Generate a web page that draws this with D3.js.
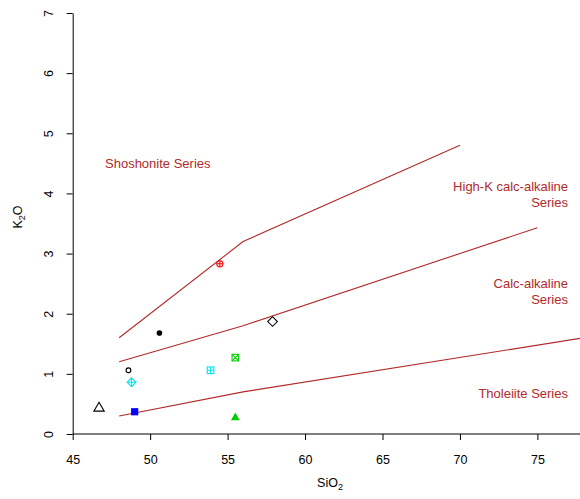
<!DOCTYPE html>
<html>
<head>
<meta charset="utf-8">
<script src="https://cdn.jsdelivr.net/npm/d3@7/dist/d3.min.js"></script>
<style>
  html, body { margin: 0; padding: 0; background: #fff; }
  svg { display: block; font-family: "Liberation Sans", Arial, sans-serif; }
</style>
</head>
<body>
<svg id="chart" width="580" height="499"></svg>
<script>
// Sample analyses (wt%)
const samples = ["A", "B", "C", "D", "E", "F", "G", "H", "I", "J"];
const sio2 = [46.7, 49.0, 55.5, 48.8, 48.6, 53.9, 55.5, 50.6, 54.5, 57.9];
const k2o  = [0.44, 0.37, 0.28, 0.86, 1.06, 1.06, 1.27, 1.68, 2.83, 1.87];

// Series boundaries (SiO2 vs K2O)
const shoshoniteBoundaryX = [48, 56, 70];
const shoshoniteBoundaryY = [1.6, 3.2, 4.8];
const highKBoundaryX = [48, 56, 75];
const highKBoundaryY = [1.2, 1.8, 3.43];
const calcAlkBoundaryX = [48, 56, 78];
const calcAlkBoundaryY = [0.3, 0.7, 1.6];

const xTicks = [45, 50, 55, 60, 65, 70, 75];
const yTicks = [0, 1, 2, 3, 4, 5, 6, 7];

// Symbol and colour for each sample
const sampleStyle = {
  A: { shape: "triangleOpen", color: "#000000" },
  B: { shape: "squareFilled", color: "#0000ff" },
  C: { shape: "triangleFilled", color: "#00cd00" },
  D: { shape: "diamondPlus", color: "#00e5ee" },
  E: { shape: "circleOpen", color: "#000000" },
  F: { shape: "squarePlus", color: "#00e5ee" },
  G: { shape: "squareCross", color: "#00cd00" },
  H: { shape: "dotFilled", color: "#000000" },
  I: { shape: "circlePlus", color: "#ff0000" },
  J: { shape: "diamondOpen", color: "#000000" }
};

const lineColor = "#b22a2a";
const svg = d3.select("#chart");
const W = 580, H = 499;

const x = d3.scaleLinear().domain([45, 77.75]).range([72.7, 580]);
const y = d3.scaleLinear().domain([0, 7]).range([434, 13]);

// Axes
const xAxis = svg.append("g")
  .attr("transform", `translate(0,${y(0)})`)
  .call(d3.axisBottom(x).tickValues(xTicks).tickFormat(d3.format("d"))
    .tickSize(6).tickSizeOuter(0).tickPadding(15));
xAxis.select(".domain").attr("d", `M${x(45)},0H${W}`);
xAxis.selectAll("text").attr("font-size", 12.5).attr("font-family", "Liberation Sans, Arial, sans-serif").attr("fill", "#000");
xAxis.selectAll("line, path").attr("stroke", "#000");

const yAxis = svg.append("g")
  .attr("transform", `translate(${x(45)},0)`)
  .call(d3.axisLeft(y).tickValues(yTicks).tickFormat(d3.format("d"))
    .tickSize(6).tickSizeOuter(0));
yAxis.selectAll("line, path").attr("stroke", "#000");
yAxis.selectAll("text")
  .attr("font-size", 12.5)
  .attr("font-family", "Liberation Sans, Arial, sans-serif")
  .attr("fill", "#000")
  .attr("text-anchor", "middle")
  .attr("transform", "rotate(-90)")
  .attr("x", 0)
  .attr("y", -23.5)
  .attr("dy", "0.32em");

// Axis titles
const xTitle = svg.append("text")
  .attr("x", 330).attr("y", 487)
  .attr("text-anchor", "middle")
  .attr("font-size", 12.5);
xTitle.append("tspan").text("SiO");
xTitle.append("tspan").attr("font-size", 9).attr("dy", 3).text("2");

const yTitle = svg.append("text")
  .attr("transform", "translate(22,217) rotate(-90)")
  .attr("text-anchor", "middle")
  .attr("font-size", 12.5);
yTitle.append("tspan").text("K");
yTitle.append("tspan").attr("font-size", 9).attr("dy", 3).text("2");
yTitle.append("tspan").attr("dy", -3).text("O");

// Boundary lines
const line = d3.line().x(d => x(d[0])).y(d => y(d[1]));
const boundaries = [
  d3.zip(shoshoniteBoundaryX, shoshoniteBoundaryY),
  d3.zip(highKBoundaryX, highKBoundaryY),
  d3.zip(calcAlkBoundaryX, calcAlkBoundaryY)
];
svg.append("defs").append("clipPath").attr("id", "plotClip")
  .append("rect").attr("x", x(45)).attr("y", y(7)).attr("width", W - x(45)).attr("height", y(0) - y(7));
svg.append("g").attr("clip-path", "url(#plotClip)")
  .selectAll("path").data(boundaries).join("path")
  .attr("d", line)
  .attr("fill", "none")
  .attr("stroke", lineColor)
  .attr("stroke-width", 1.1);

// Field labels
const labelG = svg.append("g").attr("fill", lineColor).attr("font-size", 13);
labelG.append("text").attr("x", 105).attr("y", 163).attr("dy", "0.35em").text("Shoshonite Series");
const rightLabels = [
  ["High-K calc-alkaline", 186],
  ["Series", 202],
  ["Calc-alkaline", 283.5],
  ["Series", 299],
  ["Tholeiite Series", 393.5]
];
labelG.selectAll("text.r").data(rightLabels).join("text")
  .attr("class", "r")
  .attr("x", 568).attr("y", d => d[1]).attr("dy", "0.35em")
  .attr("text-anchor", "end")
  .text(d => d[0]);

// Marker drawing
function drawMarker(g, shape, color) {
  const sw = 1.1;
  switch (shape) {
    case "triangleOpen":
      g.append("path").attr("d", "M0,-5.2L5.2,3.6L-5.2,3.6Z").attr("fill", "none").attr("stroke", color).attr("stroke-width", sw);
      break;
    case "triangleFilled":
      g.append("path").attr("d", "M0,-4.6L4.4,3.2L-4.4,3.2Z").attr("fill", color);
      break;
    case "squareFilled":
      g.append("rect").attr("x", -3.6).attr("y", -3.6).attr("width", 7.2).attr("height", 7.2).attr("fill", color);
      break;
    case "squarePlus":
      g.append("rect").attr("x", -3.3).attr("y", -3.3).attr("width", 6.6).attr("height", 6.6).attr("fill", "none").attr("stroke", color).attr("stroke-width", sw);
      g.append("path").attr("d", "M-3.3,0H3.3M0,-3.3V3.3").attr("stroke", color).attr("stroke-width", sw);
      break;
    case "squareCross":
      g.append("rect").attr("x", -3.3).attr("y", -3.3).attr("width", 6.6).attr("height", 6.6).attr("fill", "none").attr("stroke", color).attr("stroke-width", sw);
      g.append("path").attr("d", "M-3.3,-3.3L3.3,3.3M-3.3,3.3L3.3,-3.3").attr("stroke", color).attr("stroke-width", sw);
      break;
    case "diamondPlus":
      g.append("path").attr("d", "M0,-4.4L4.4,0L0,4.4L-4.4,0Z").attr("fill", "none").attr("stroke", color).attr("stroke-width", sw);
      g.append("path").attr("d", "M-4.4,0H4.4M0,-4.4V4.4").attr("stroke", color).attr("stroke-width", sw);
      break;
    case "diamondOpen":
      g.append("path").attr("d", "M0,-4.8L4.8,0L0,4.8L-4.8,0Z").attr("fill", "none").attr("stroke", color).attr("stroke-width", sw);
      break;
    case "circleOpen":
      g.append("circle").attr("r", 2.4).attr("fill", "none").attr("stroke", color).attr("stroke-width", sw);
      break;
    case "dotFilled":
      g.append("circle").attr("r", 2.8).attr("fill", color);
      break;
    case "circlePlus":
      g.append("circle").attr("r", 3.1).attr("fill", "none").attr("stroke", color).attr("stroke-width", sw);
      g.append("path").attr("d", "M-3.1,0H3.1M0,-3.1V3.1").attr("stroke", color).attr("stroke-width", sw);
      break;
  }
}

svg.append("g").selectAll("g").data(samples).join("g")
  .attr("transform", (d, i) => `translate(${x(sio2[i])},${y(k2o[i])})`)
  .each(function(d) {
    const s = sampleStyle[d];
    drawMarker(d3.select(this), s.shape, s.color);
  });
</script>
</body>
</html>
